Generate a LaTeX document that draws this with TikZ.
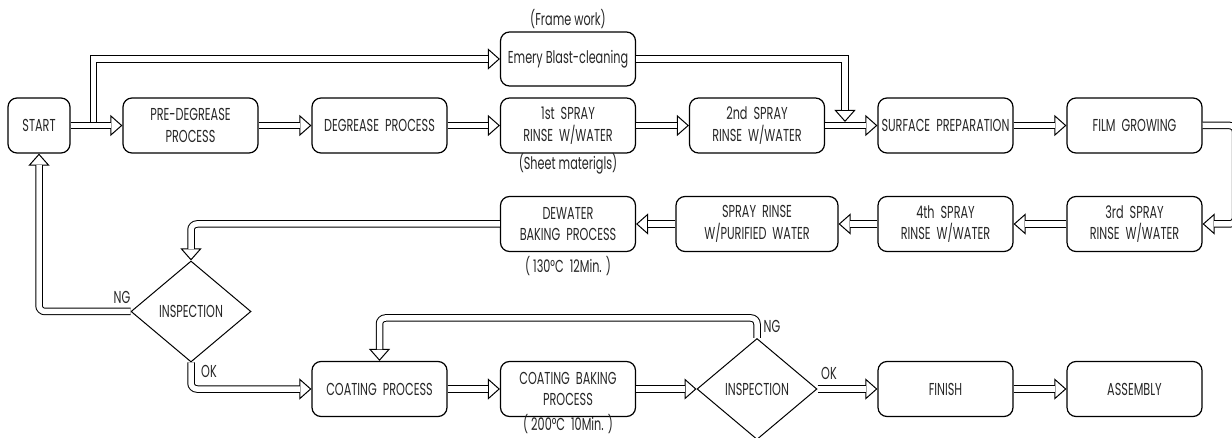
\documentclass[tikz,border=0pt]{standalone}
\usepackage{fontspec}
\setmainfont{Poppins}[FakeStretch=0.65]
\usetikzlibrary{arrows.meta,shapes.geometric}
\newcommand\txtfont{\fontsize{17.3}{21.5}\selectfont}
\tikzset{
  box/.style={draw, line width=1.2pt, rounded corners=9pt, minimum width=135pt, minimum height=55pt,
    inner sep=0pt, align=center, font=\txtfont, text=black!85},
  dia/.style={draw, diamond, line width=1pt, minimum width=120pt, minimum height=101pt,
    inner sep=0pt, font=\txtfont, text=black!85},
  lbl/.style={inner sep=0pt, font=\txtfont, text=black!85},
  dhead/.style={line width=1pt, -{Triangle[open, length=12pt, width=21pt]}},
  dshaft/.style={line width=1pt, double=white, double distance=5.5pt, shorten >=11.5pt},
}
\newcommand\dbl[2][]{\draw[dhead,#1] #2; \draw[dshaft,#1] #2;}
\begin{document}
\begin{tikzpicture}[x=1pt,y=-1pt]
\useasboundingbox (0,0) rectangle (1232,438);
% row 1
\node[box, minimum width=62pt] (start) at (39,125.5) {START};
\node[box] (pre) at (190.5,125.5) {PRE-DEGREASE\\PROCESS};
\node[box] (deg) at (379.5,125.5) {DEGREASE~ PROCESS};
\node[box] (sp1) at (568,125.5) {1st~ SPRAY\\RINSE~ W/WATER};
\node[box, minimum height=54pt] (emery) at (568,59) {Emery Blast-cleaning};
\node[box] (sp2) at (757,125.5) {2nd~ SPRAY\\RINSE~ W/WATER};
\node[box] (surf) at (945.5,125.5) {SURFACE~ PREPARATION};
\node[box] (film) at (1134.5,125.5) {FILM~ GROWING};
% row 2
\node[box] (sp3) at (1134.5,224) {3rd~ SPRAY\\RINSE~ W/WATER};
\node[box] (sp4) at (945.5,224) {4th~ SPRAY\\RINSE~ W/WATER};
\node[box, minimum width=162pt] (spp) at (757,224) {SPRAY~ RINSE\\W/PURIFIED~ WATER};
\node[box] (dew) at (568,224) {DEWATER\\BAKING~ PROCESS};
% row 3
\node[dia] (insp1) at (191,311.5) {INSPECTION};
\node[box] (coat) at (379.5,389) {COATING~ PROCESS};
\node[box] (cbake) at (568,389) {COATING~ BAKING\\PROCESS};
\node[dia] (insp2) at (757,389) {INSPECTION};
\node[box] (finish) at (945.5,389) {FINISH};
\node[box] (assy) at (1134.5,389) {ASSEMBLY};
% labels
\node[lbl] (lframe) at (568,19) {(Frame work)};
\node[lbl] (lsheet) at (568,164) {(Sheet materigls)};
\node[lbl] (ltemp1) at (568,266) {( 130°C~ 12Min. )};
\node[lbl] (ltemp2) at (568,424) {( 200°C~ 10Min. )};
\node[lbl] (ng1) at (122,297) {NG};
\node[lbl] (ok1) at (209,371) {OK};
\node[lbl] (ng2) at (772,326) {NG};
\node[lbl] (ok2) at (829,373) {OK};
% connectors
\coordinate (surfin) at (845,122);
\dbl{(start.east) -- ([xshift=23pt]start.east) |- (emery.west)}
\dbl{(start.east) -- (pre.west)}
\dbl{(pre.east) -- (deg.west)}
\dbl{(deg.east) -- (sp1.west)}
\dbl{(sp1.east) -- (sp2.west)}
\dbl{(sp2.east) -- (surf.west)}
\dbl{(emery.east) -| (surfin)}
\dbl{(surf.east) -- (film.west)}
\dbl[rounded corners=6pt]{(film.east) -- ++(33,0) |- (sp3.east)}
\dbl{(sp3.west) -- (sp4.east)}
\dbl{(sp4.west) -- (spp.east)}
\dbl{(spp.west) -- (dew.east)}
\dbl[rounded corners=6pt]{(dew.west) -| (insp1.north)}
\dbl[rounded corners=6pt]{(insp1.west) -| (start.south)}
\dbl[rounded corners=6pt]{(insp1.south) |- (coat.west)}
\dbl{(coat.east) -- (cbake.west)}
\dbl{(cbake.east) -- (insp2.west)}
\dbl[rounded corners=6pt]{(insp2.north) -- ++(0,-20) -| (coat.north)}
\dbl{(insp2.east) -- (finish.west)}
\dbl{(finish.east) -- (assy.west)}
\end{tikzpicture}
\end{document}
